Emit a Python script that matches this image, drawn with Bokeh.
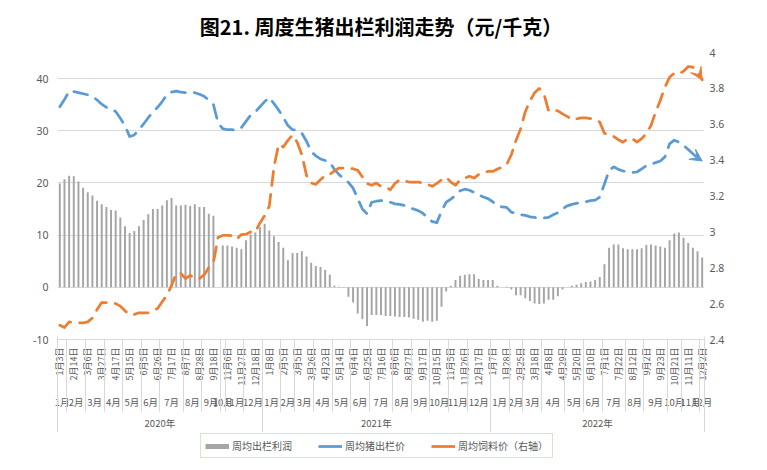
import datetime as dt
import math
from bokeh.plotting import figure
from bokeh.layouts import column
from bokeh.models import (Range1d, LinearAxis, FixedTicker, CustomJSTickFormatter, Grid,
                          Legend, LegendItem, Arrow, VeeHead, BoxAnnotation)
from bokeh.embed import file_html
from bokeh.resources import INLINE

# ---------------- data ----------------
profit = [19.9, 20.7, 21.4, 21.3, 20.3, 19.1, 18.2, 17.6, 16.6, 15.9,
          15.4, 14.8, 14.7, 13.4, 11.7, 10.4, 10.8, 11.7, 12.9, 14.0,
          15.0, 15.0, 15.7, 16.7, 17.1, 15.7, 15.7, 15.8, 15.6, 15.9,
          15.4, 15.4, 14.1, 13.7, float("nan"),
          8.0, 8.0, 7.8, 7.6, 7.3, 9.0, 10.1, 10.5, 11.5, 12.2,
          10.9, 9.8, 8.7, 7.6, 5.2, 6.6, 6.6, 6.9, 5.9, 4.7,
          4.1, 3.9, 3.3, 2.4, 0.3, 0.1, -0.1, -1.8, -2.9, -5.0,
          -6.1, -7.4, -5.3, -5.3, -5.3,
          -5.5, -5.5, -5.6, -5.7, -5.7, -5.8, -6.0, -6.2, -6.6, -6.4,
          -6.6, -6.4, -3.7, -0.8, 0.3, 1.4, 2.2, 2.4, 2.5, 2.5,
          1.6, 1.4, 1.4, 1.4, 0.3, 0.0, 0.1, -0.4, -1.5, -1.5,
          -2.1, -2.6, -3.1, -3.2, -3.1,
          -2.4, -2.4, -1.7, -0.4, 0.0, 0.3, 0.5, 0.8, 1.0, 1.1,
          1.4, 2.0, 4.4, 7.6, 8.2, 8.2, 7.5, 7.3, 7.3, 7.3,
          7.5, 8.1, 8.2, 8.0, 7.8, 7.6, 9.0, 10.3, 10.5, 9.5,
          8.5, 7.6, 6.9, 5.7]

hog_price = [34.6, 36.0, 37.6, 37.5, 37.3, 37.1, 36.9, 36.6, 35.9, 35.1,
             34.5, 34.1, 33.7, 32.4, 31.0, 28.9, 29.2, 30.2, 31.3, 32.5,
             33.6, 34.5, 35.6, 36.9, 37.4, 37.6, 37.4, 37.3, 37.3, 37.3,
             37.0, 36.6, 35.9, 35.0, 31.5, 30.4,
             30.2, 30.2, 30.1, 30.6, 31.8, 33.0, 33.6, 34.6, 35.6, 36.4,
             35.2, 34.0, 32.6, 31.0, 30.2, 30.1, 29.5, 28.0, 26.0, 25.2,
             24.6, 24.3, 24.0, 22.6, 21.6, 20.8, 20.1, 19.0, 17.0, 15.0,
             14.1, 16.3, 16.5, 16.6,
             16.6, 16.3, 16.0, 15.9, 15.7, 15.3, 15.0, 14.7, 14.2, 13.3,
             12.6, 12.4, 14.6, 16.3, 16.9, 17.6, 18.5, 18.8, 18.6, 18.2,
             17.7, 17.3, 17.0, 16.4, 15.7, 15.4, 15.3, 14.4, 14.2, 13.9,
             13.8, 13.5, 13.4, 13.2, 13.3,
             13.4, 13.9, 14.3, 15.0, 15.6, 15.9, 16.1, 16.3, 16.4, 16.6,
             16.7, 17.3, 19.8, 22.4, 23.1, 22.6, 22.3, 22.1, 22.0, 22.1,
             22.7, 23.3, 23.6, 23.9, 24.2, 25.0, 27.5, 28.2, 27.8, 27.2,
             26.4, 25.6, 24.8, 24.2]

feed_price = [2.48, 2.467, 2.498, 2.493, 2.493, 2.493, 2.498, 2.52, 2.567, 2.606,
              2.606, 2.606, 2.60, 2.586, 2.56, 2.54, 2.54, 2.549, 2.549, 2.549,
              2.56, 2.573, 2.61, 2.647, 2.70, 2.768, 2.768, 2.74, 2.758, 2.74,
              2.74, 2.76, 2.80, 2.83, 2.97, 2.98,
              2.98, 2.978, 2.96, 2.985, 2.987, 3.0, 3.0, 3.05, 3.09, 3.144,
              3.36, 3.488, 3.473, 3.51, 3.54, 3.50, 3.43, 3.315, 3.272, 3.265,
              3.29, 3.315, 3.32, 3.34, 3.356, 3.356, 3.352, 3.352, 3.343, 3.306,
              3.27, 3.26, 3.272, 3.254,
              3.25, 3.235, 3.27, 3.29, 3.285, 3.278, 3.278, 3.278, 3.272, 3.265,
              3.254, 3.27, 3.29, 3.305, 3.278, 3.26, 3.29, 3.30, 3.31, 3.30,
              3.32, 3.33, 3.337, 3.337, 3.35, 3.36, 3.376, 3.43, 3.51, 3.575,
              3.67, 3.73, 3.775, 3.80, 3.77,
              3.675, 3.68, 3.675, 3.658, 3.644, 3.625, 3.63, 3.636, 3.635, 3.632,
              3.627, 3.612, 3.55, 3.538, 3.532, 3.514, 3.50, 3.52, 3.52, 3.50,
              3.52, 3.547, 3.593, 3.668, 3.733, 3.807, 3.862, 3.885, 3.881, 3.896,
              3.922, 3.918, 3.89, 3.848]

date_labels = ["1月3日", "2月14日", "3月6日", "3月27日", "4月17日", "5月15日", "6月5日",
               "6月26日", "7月17日", "8月7日", "8月28日", "9月18日", "11月6日", "11月27日",
               "12月18日",
               "1月8日", "2月5日", "3月5日", "3月26日", "4月23日", "5月14日", "6月4日",
               "6月25日", "7月16日", "8月6日", "8月27日", "9月17日", "10月15日", "11月5日",
               "11月26日", "12月17日",
               "1月7日", "1月28日", "2月25日", "3月18日", "4月8日", "4月29日", "5月20日",
               "6月10日", "7月1日", "7月22日", "8月12日", "9月2日", "9月23日", "10月21日",
               "11月11日", "12月2日"]

# weeks without a published value (holidays)
missing_weeks = ["2020-01-17", "2020-01-24", "2020-01-31", "2020-05-01",
                 "2020-10-02", "2020-10-09", "2020-10-16", "2020-10-23",
                 "2021-01-29", "2021-02-12", "2021-04-02", "2021-10-01",
                 "2022-02-04", "2022-10-07"]

left_ticks = [-10, 0, 10, 20, 30, 40]
right_ticks = [2.4, 2.6, 2.8, 3.0, 3.2, 3.4, 3.6, 3.8, 4.0]

title_text = "图21. 周度生猪出栏利润走势（元/千克）"
series_names = ["周均出栏利润", "周均猪出栏价", "周均饲料价（右轴）"]

# ---------------- categories ----------------
skip = set(missing_weeks)
weeks = []
d = dt.date(2020, 1, 3)
while len(weeks) < len(profit):
    if d.isoformat() not in skip:
        weeks.append(d)
    d += dt.timedelta(days=7)
n = len(weeks)
xs = list(range(n))


def groups(keyfun):
    out = []
    for i, w in enumerate(weeks):
        k = keyfun(w)
        if out and out[-1][0] == k:
            out[-1][2] = i
        else:
            out.append([k, i, i])
    return out


mg = groups(lambda w: (w.year, w.month))
yg = groups(lambda w: w.year)
month_pos = [(g[1] + g[2]) / 2 for g in mg]
month_text = [f"{g[0][1]}月" for g in mg]
month_bounds = [g[1] - 0.5 for g in mg] + [n - 0.5]
year_pos = [(g[1] + g[2]) / 2 for g in yg]
year_text = [f"{g[0]}年" for g in yg]
year_bounds = [g[1] - 0.5 for g in yg] + [n - 0.5]
date_pos = list(range(0, n, 3))

GRAY_TXT = "#595959"
GRID = "#D9D9D9"
BLUE = "#5B9BD5"
ORANGE = "#ED7D31"
BAR = "#A5A5A5"
CJK = "Noto Sans CJK SC"

p = figure(width=767, height=432, output_backend="svg", toolbar_location=None,
           x_range=Range1d(-0.5, n - 0.5), y_range=Range1d(-10, 45),
           x_axis_type=None, y_axis_type=None,
           min_border_left=57, min_border_right=63, min_border_top=52, min_border_bottom=93)
p.extra_y_ranges = {"right": Range1d(2.4, 4.0)}
p.outline_line_color = None
p.background_fill_color = "white"
p.border_fill_color = "white"

p.title.text = title_text
p.title.align = "center"
p.title.vertical_align = "top"
p.title.text_font = CJK
p.title.text_font_size = "20px"
p.title.text_font_style = "bold"
p.title.text_color = "#000000"
p.title.standoff = 20

fmt_int = CustomJSTickFormatter(code="return tick.toFixed(0);")
fmt_r = CustomJSTickFormatter(code="return String(Number(tick.toFixed(1)));")


def style_y(ax, standoff):
    ax.axis_line_color = None
    ax.major_tick_line_color = None
    ax.minor_tick_line_color = None
    ax.major_tick_in = 0
    ax.major_tick_out = 0
    ax.minor_tick_in = 0
    ax.minor_tick_out = 0
    ax.major_label_standoff = standoff
    ax.major_label_text_font = "Noto Sans"
    ax.major_label_text_font_size = "10.5px"
    ax.major_label_text_color = GRAY_TXT


yl = LinearAxis(ticker=FixedTicker(ticks=left_ticks), formatter=fmt_int)
style_y(yl, 9)
p.add_layout(yl, "left")
yr = LinearAxis(y_range_name="right", ticker=FixedTicker(ticks=right_ticks), formatter=fmt_r)
style_y(yr, 5)
p.add_layout(yr, "right")
p.add_layout(Grid(dimension=1, ticker=FixedTicker(ticks=left_ticks),
                  grid_line_color=GRID, grid_line_width=1))

lookup = "const k = pos.indexOf(tick); return k < 0 ? '' : labels[k];"


def label_axis(pos, labels, size, standoff):
    ax = LinearAxis(ticker=FixedTicker(ticks=pos, minor_ticks=[]),
                    formatter=CustomJSTickFormatter(args=dict(pos=pos, labels=labels), code=lookup))
    ax.major_tick_line_color = None
    ax.minor_tick_line_color = None
    ax.major_tick_in = 0
    ax.major_tick_out = 0
    ax.minor_tick_in = 0
    ax.minor_tick_out = 0
    ax.axis_line_color = None
    ax.major_label_text_font = CJK
    ax.major_label_text_color = GRAY_TXT
    ax.major_label_text_font_size = size
    ax.major_label_standoff = standoff
    return ax


def separator_axis(bounds, length):
    # zero-height axis whose minor ticks point back up towards the plot
    ax = LinearAxis(ticker=FixedTicker(ticks=[], minor_ticks=bounds))
    ax.axis_line_color = None
    ax.major_tick_line_color = None
    ax.major_tick_in = 0
    ax.major_tick_out = 0
    ax.minor_tick_out = 0
    ax.minor_tick_in = length
    ax.minor_tick_line_color = GRID
    ax.minor_tick_line_width = 1
    ax.major_label_standoff = 0
    ax.major_label_text_font_size = "0px"
    return ax


ax_d = label_axis(date_pos, date_labels, "9px", 8)
ax_d.axis_line_color = GRID
ax_d.major_label_orientation = math.pi / 2
ax_m = label_axis(month_pos, month_text, "9.5px", 6)
ax_y = label_axis(year_pos, year_text, "9.5px", 4)
sep_m = separator_axis(month_bounds, 75)
sep_y = separator_axis(year_bounds, 96)
p.add_layout(ax_d, "below")
p.add_layout(ax_m, "below")
p.add_layout(sep_m, "below")
p.add_layout(ax_y, "below")
p.add_layout(sep_y, "below")

# ---------------- glyphs ----------------
p.vbar(x=xs, top=profit, bottom=0, width=0.42, fill_color=BAR, line_color=None)
p.line(xs, hog_price, line_color=BLUE, line_width=2.75, line_dash="14 9",
       line_cap="round", line_join="round")
p.line(xs, feed_price, line_color=ORANGE, line_width=2.75, line_dash="14 9",
       line_cap="round", line_join="round", y_range_name="right")

p.add_layout(Arrow(end=VeeHead(size=12, fill_color=BLUE, line_color=BLUE),
                   x_start=xs[-2], y_start=hog_price[-2], x_end=xs[-1], y_end=hog_price[-1],
                   line_alpha=0))
p.add_layout(Arrow(end=VeeHead(size=12, fill_color=ORANGE, line_color=ORANGE),
                   x_start=xs[-2], y_start=feed_price[-2], x_end=xs[-1], y_end=feed_price[-1],
                   line_alpha=0, y_range_name="right"))

# white strip just above the -10 line hides any separator overshoot into the plot
p.add_layout(BoxAnnotation(bottom=-9.85, top=-8.3, fill_color="white", fill_alpha=1,
                           line_alpha=0, level="overlay"))

# ---------------- legend strip ----------------
lf = figure(width=767, height=38, output_backend="svg", toolbar_location=None,
            x_range=Range1d(0, 1), y_range=Range1d(0, 1),
            x_axis_type=None, y_axis_type=None, min_border=0)
lf.outline_line_color = None
lf.background_fill_color = "white"
lf.border_fill_color = "white"
nan = float("nan")
lg_bar = lf.line(x=[nan], y=[nan], line_color=BAR, line_width=5)
lg_blue = lf.line(x=[nan], y=[nan], line_color=BLUE, line_width=2.75)
lg_orange = lf.line(x=[nan], y=[nan], line_color=ORANGE, line_width=2.75)
legend = Legend(items=[LegendItem(label=series_names[0], renderers=[lg_bar]),
                       LegendItem(label=series_names[1], renderers=[lg_blue]),
                       LegendItem(label=series_names[2], renderers=[lg_orange])],
                orientation="horizontal", location=(143, 12),
                glyph_width=24, glyph_height=14, label_standoff=3, spacing=26,
                padding=4, margin=0, label_text_font=CJK, label_text_font_size="10px",
                label_text_color=GRAY_TXT, border_line_color="#A9D18E", border_line_width=1.5,
                background_fill_color="white", background_fill_alpha=1)
lf.add_layout(legend)

layout = column(p, lf, spacing=0)
open("out.html", "w").write(file_html(layout, INLINE))
